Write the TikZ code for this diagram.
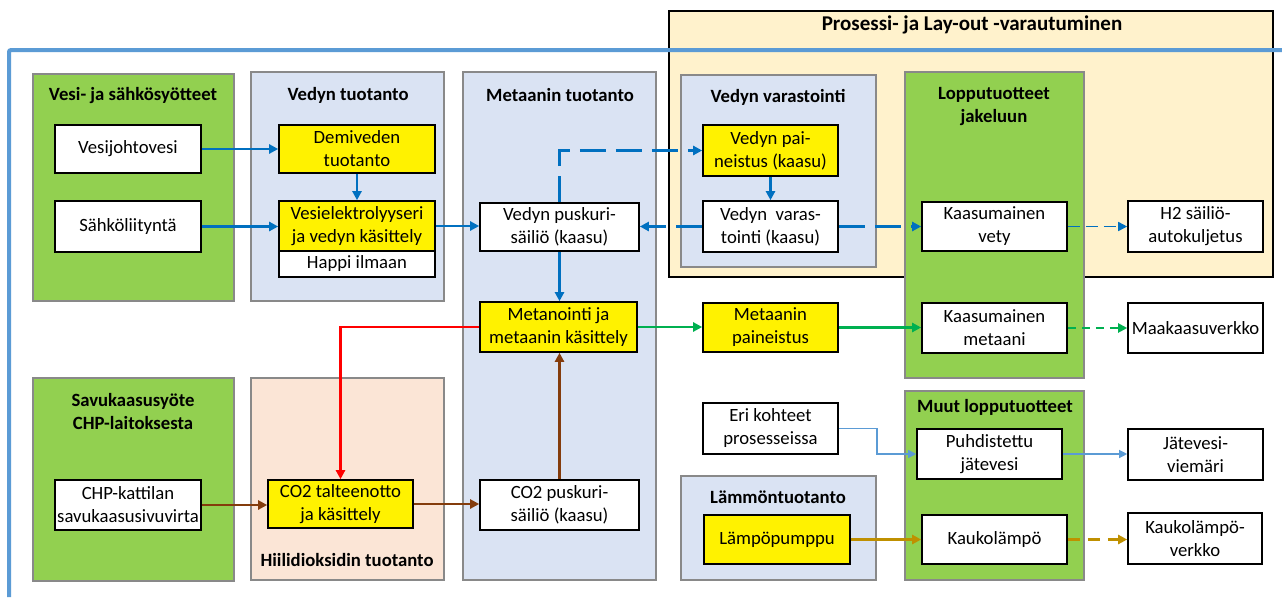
\documentclass[tikz,border=0pt]{standalone}
\usepackage{fontspec}
\setmainfont{Carlito}
\usetikzlibrary{arrows.meta,fit}
\definecolor{grpgreen}{HTML}{92D050}
\definecolor{grpblue}{HTML}{DAE3F3}
\definecolor{grppeach}{HTML}{FBE5D6}
\definecolor{grpbeige}{HTML}{FFF2CC}
\definecolor{grpline}{HTML}{898989}
\definecolor{h2blue}{HTML}{0070C0}
\definecolor{framebl}{HTML}{5B9BD5}
\definecolor{ch4green}{HTML}{00B050}
\definecolor{co2brown}{HTML}{843C0C}
\definecolor{heatgold}{HTML}{BF9000}
\definecolor{redline}{HTML}{FF0000}
\begin{document}
\begin{tikzpicture}[x=1pt,y=-1pt,
  grp/.style={draw=grpline, line width=1.6pt, inner sep=0pt},
  box/.style={draw=black, line width=1.6pt, fill=white, inner sep=0pt, align=center,
    font=\fontsize{18.7}{23}\selectfont},
  ybox/.style={box, fill=yellow},
  sz/.style 2 args={minimum width=#1pt, minimum height=#2pt},
  ttl/.style={inner sep=0pt, align=center, font=\fontsize{18.7}{23}\selectfont\bfseries},
  flow/.style={-{Triangle[length=9pt,width=9pt]}, line width=2.4pt},
  thin/.style={-{Triangle[length=8pt,width=8pt]}, line width=1.2pt, draw=framebl},
  ldash/.style={dash pattern=on 26pt off 10pt},
]
\useasboundingbox (0,0) rectangle (1282,597);
\fill[white] (0,0) rectangle (1282,597);

% process and layout reservation area
\node[draw=black, line width=1.6pt, fill=grpbeige, inner sep=0pt, fit={(669,11) (1273,277)}] (gres) {};
\node[ttl, font=\fontsize{21}{25}\selectfont\bfseries] (tres) at (972,25) {Prosessi- ja Lay-out -varautuminen};

% plant boundary line
\draw[framebl, line width=4pt, rounded corners=2pt] (1282,50) -- (9,50) -- (9,597);

% function groups
\node[grp, fill=grpgreen, fit={(33,74) (234,301)}] (gwat) {};
\node[grp, fill=grpblue, fit={(251,72) (444,301)}] (gh2) {};
\node[grp, fill=grpblue, fit={(463,72) (656,580)}] (gch4) {};
\node[grp, fill=grpblue, fit={(681,75) (876,267)}] (gsto) {};
\node[grp, fill=grpgreen, fit={(905,72) (1084,378)}] (gend) {};
\node[grp, fill=grpgreen, fit={(33,378) (234,581)}] (gflue) {};
\node[grp, fill=grppeach, fit={(251,378) (444,580)}] (gco2) {};
\node[grp, fill=grpblue, fit={(681,476) (876,580)}] (gheat) {};
\node[grp, fill=grpgreen, fit={(905,391) (1084,580)}] (goth) {};

\node[ttl] (twat) at (133,96) {Vesi- ja sähkösyötteet};
\node[ttl] (th2) at (348,95) {Vedyn tuotanto};
\node[ttl] (tch4) at (560,95) {Metaanin tuotanto};
\node[ttl] (tsto) at (778,97) {Vedyn varastointi};
\node[ttl] (tend) at (994,106.5) {Lopputuotteet\\jakeluun};
\node[ttl] (tflue) at (133,411.5) {Savukaasusyöte\\CHP-laitoksesta};
\node[ttl] (tco2) at (347,560) {Hiilidioksidin tuotanto};
\node[ttl] (theat) at (778,497) {Lämmöntuotanto};
\node[ttl] (toth) at (995,407) {Muut lopputuotteet};

% process units
\node[box, sz={146}{48}] (vesi) at (128,149) {Vesijohtovesi};
\node[box, sz={146}{51}] (sahko) at (128,226.5) {Sähköliityntä};
\node[ybox, sz={156}{48}] (demi) at (357,149) {Demiveden\\tuotanto};
\node[ybox, sz={156}{50}] (elek) at (357,226) {Vesielektrolyyseri\\ja vedyn käsittely};
\node[box, sz={156}{26}] (happi) at (357,264) {Happi ilmaan};
\node[box, sz={159}{48}] (pusk) at (559.5,227) {Vedyn puskuri-\\säiliö (kaasu)};
\node[ybox, sz={135}{51}] (pain) at (770.5,150.5) {Vedyn pai-\\neistus (kaasu)};
\node[box, sz={135}{51}] (varast) at (770.5,226.5) {Vedyn\ \ varas-\\tointi (kaasu)};
\node[box, sz={145}{49}] (kvety) at (994.5,226.5) {Kaasumainen\\vety};
\node[box, sz={135}{51}] (h2auto) at (1195.5,226.5) {H2 säiliö-\\autokuljetus};
\node[ybox, sz={157}{50}] (met) at (558.5,327) {Metanointi ja\\metaanin käsittely};
\node[ybox, sz={135}{49}] (mpain) at (770.5,327.5) {Metaanin\\paineistus};
\node[box, sz={145}{50}] (kmet) at (994.5,328) {Kaasumainen\\metaani};
\node[box, sz={135}{50}] (maak) at (1195.5,328) {Maakaasuverkko};
\node[box, sz={135}{51}] (eri) at (770.5,428.5) {Eri kohteet\\prosesseissa};
\node[box, sz={145}{50}] (puhd) at (989.5,454) {Puhdistettu\\jätevesi};
\node[box, sz={135}{51}] (jatev) at (1195.5,454.5) {Jätevesi-\\viemäri};
\node[box, sz={146}{50}] (chp) at (128,505) {CHP-kattilan\\savukaasusivuvirta};
\node[ybox, sz={145}{48}] (co2t) at (340.5,504) {CO2 talteenotto\\ja käsittely};
\node[box, sz={159}{50}] (co2p) at (559.5,505) {CO2 puskuri-\\säiliö (kaasu)};
\node[ybox, sz={146}{49}] (lamp) at (777,539.5) {Lämpöpumppu};
\node[box, sz={145}{49}] (kauk) at (994.5,539.5) {Kaukolämpö};
\node[box, sz={134}{51}] (kverk) at (1195,538.5) {Kaukolämpö-\\verkko};

% hydrogen flows
\draw[flow, h2blue] (vesi) -- (demi);
\draw[flow, h2blue] (demi) -- (elek);
\draw[flow, h2blue] (sahko.east) -- (sahko.east -| elek.west);
\draw[flow, h2blue] (elek.east) -- (elek.east -| pusk.west);
\draw[flow, h2blue, ldash] (pusk.north) -- (pusk.north |- pain.west) -- (pain.west);
\draw[flow, h2blue] (pain) -- (varast);
\draw[flow, h2blue, ldash] (varast.west) -- (varast.west -| pusk.east);
\draw[flow, h2blue, ldash] (varast.east) -- (varast.east -| kvety.west);
\draw[h2blue, line width=1.6pt, dash pattern=on 12pt off 6pt, -{Triangle[length=9pt,width=9pt]}] (kvety.east) -- (kvety.east -| h2auto.west);
\draw[flow, h2blue] (pusk.south) -- (pusk.south |- met.north);

% methane flows
\draw[flow, ch4green] (met.east) -- (met.east -| mpain.west);
\draw[flow, ch4green] (mpain.east) -- (mpain.east -| kmet.west);
\draw[ch4green, line width=2pt, dash pattern=on 8pt off 6pt, -{Triangle[length=9pt,width=9pt]}] (kmet.east) -- (kmet.east -| maak.west);

% heat from methanation and carbon dioxide flows
\draw[flow, redline] (met.west) -| (co2t.north);
\draw[flow, co2brown] (chp.east) -- (chp.east -| co2t.west);
\draw[flow, co2brown] (co2t.east) -- (co2t.east -| co2p.west);
\draw[flow, co2brown] (co2p.north) -- (co2p.north |- met.south);

% waste water and district heat
\coordinate (wbend) at (877,0);
\draw[thin] (eri.east) -- (eri.east -| wbend) |- (puhd.west);
\draw[thin] (puhd.east) -- (puhd.east -| jatev.west);
\draw[flow, heatgold] (lamp.east) -- (lamp.east -| kauk.west);
\draw[heatgold, line width=2.4pt, dash pattern=on 12pt off 8pt, -{Triangle[length=9pt,width=9pt]}] (kauk.east) -- (kauk.east -| kverk.west);
\end{tikzpicture}
\end{document}
